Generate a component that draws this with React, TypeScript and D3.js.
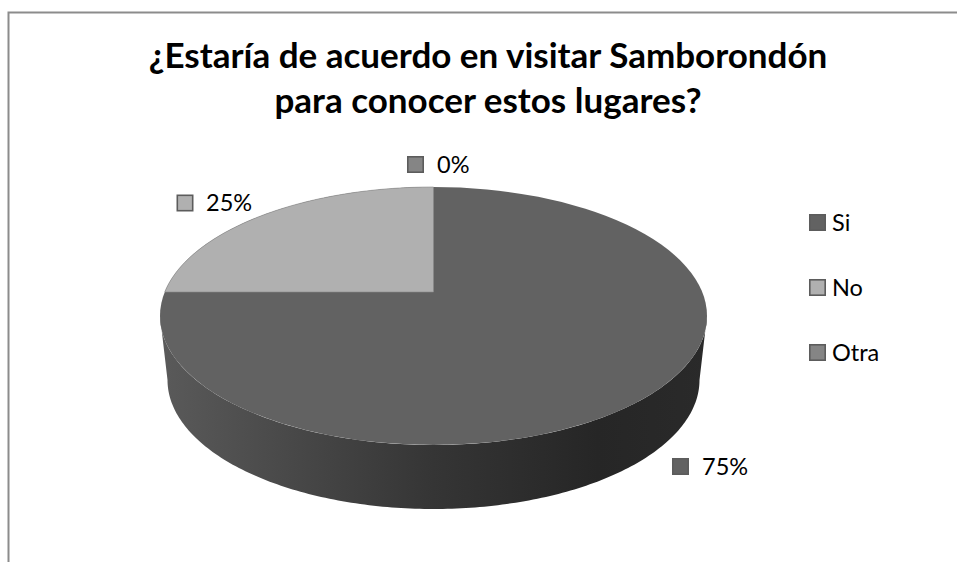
import React from "react";
import * as d3 from "d3";

const W = 957, H = 562;
const categories = ["Si", "No", "Otra"];
const seriesValues = [75, 25, 0];
const dataLabels = ["75%", "25%", "0%"];
const titleLines = ["¿Estaría de acuerdo en visitar Samborondón", "para conocer estos lugares?"];
const colors = ["#626262", "#b0b0b0", "#858585"];
const FONT = "Lato, Carlito, 'Open Sans', sans-serif";

const cx = 433.5, cy = 316, rx = 273.5, ry = 129;
const centerY = 292;
const k = (centerY - cy) / ry;
const botRx = 266, botCy = 380, botRy = 129;

function project(a: number): [number, number] {
  const c = Math.sin(a), s = -Math.cos(a);
  const d = 1 + k * s;
  return [cx + (rx * c * Math.sqrt(1 - k * k)) / d, cy + (ry * (s + k)) / d];
}

const pieGen = d3.pie<number>().sort(null);
const arcs = pieGen(seriesValues);
const line = d3.line();

function slicePath(a0: number, a1: number) {
  const n = Math.max(2, Math.ceil((a1 - a0) * 60));
  const pts = d3.range(n + 1).map((i) => project(a0 + ((a1 - a0) * i) / n));
  return line([[cx, centerY], ...pts]) + "Z";
}

const sweep = d3.range(0, 181).map((i) => (i * Math.PI) / 180);
const sidePath =
  line([
    ...sweep.map((t) => [cx + rx * Math.cos(t), cy + ry * Math.sin(t)] as [number, number]),
    ...sweep
      .slice()
      .reverse()
      .map((t) => [cx + botRx * Math.cos(t), botCy + botRy * Math.sin(t)] as [number, number]),
  ]) + "Z";

const legendY = d3.scalePoint<string>().domain(categories).range([222.5, 352.5]);

const labelPos = [
  { sw: 680.5, tx: 702, y: 466.5 },
  { sw: 185, tx: 206, y: 203 },
  { sw: 415.5, tx: 437, y: 164.5 },
];

function Swatch({ x, y, fill, size = 15.4 }: { x: number; y: number; fill: string; size?: number }) {
  return <rect x={x - size / 2} y={y - size / 2} width={size} height={size} fill={fill} stroke="#5c5c5c" strokeWidth={1.6} />;
}

export default function App() {
  return (
    <svg width={W} height={H} viewBox={`0 0 ${W} ${H}`} style={{ position: "absolute", left: 0, top: 0, background: "#fff" }} fontFamily={FONT}>
      <defs>
        <linearGradient id="side" gradientUnits="userSpaceOnUse" x1={160} x2={707} y1={0} y2={0}>
          <stop offset="0" stopColor="#5a5a5a" />
          <stop offset="0.5" stopColor="#353535" />
          <stop offset="0.8" stopColor="#262626" />
          <stop offset="1" stopColor="#2a2a2a" />
        </linearGradient>
      </defs>
      <path d="M8.5,562V12.5H957" fill="none" stroke="#8c8c8c" strokeWidth={2} />
      {titleLines.map((t, i) => (
        <text key={i} x={488} y={68 + i * 45} textAnchor="middle" fontSize={35} fontWeight={700} fill="#000">
          {t}
        </text>
      ))}
      <path d={sidePath} fill="url(#side)" />
      <ellipse cx={cx} cy={cy} rx={rx} ry={ry} fill={colors[0]} />
      {arcs.map((a, i) =>
        a.endAngle > a.startAngle && i > 0 ? (
          <path key={i} d={slicePath(a.startAngle, a.endAngle)} fill={colors[i]} stroke="#8a8a8a" strokeWidth={0.6} />
        ) : null
      )}
      {labelPos.map((p, i) => (
        <g key={i}>
          <Swatch x={p.sw} y={p.y} fill={colors[i]} />
          <text x={p.tx} y={p.y + 8} fontSize={23.5} fill="#000">
            {dataLabels[i]}
          </text>
        </g>
      ))}
      {categories.map((c, i) => (
        <g key={c}>
          <Swatch x={817.5} y={legendY(c)!} fill={colors[i]} />
          <text x={832} y={legendY(c)! + 8} fontSize={23.5} fill="#000">
            {c}
          </text>
        </g>
      ))}
    </svg>
  );
}
